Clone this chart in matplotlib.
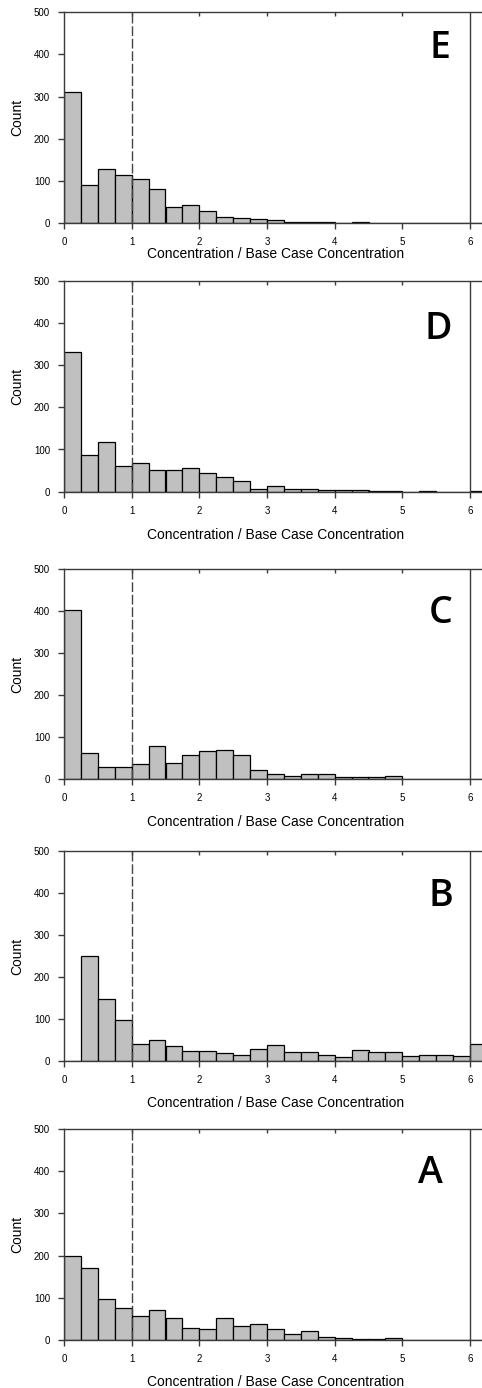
import numpy as np
import matplotlib
matplotlib.use("Agg")
import matplotlib.pyplot as plt

# ---- data (counts per 0.25-wide bin, starting at 0) ----
bin_width = 0.25
counts_E = [310, 90, 127, 115, 104, 80, 39, 42, 28, 15, 12, 9, 7, 2, 2, 2, 0, 2, 0, 0, 0, 0, 0, 0, 0]
counts_D = [330, 87, 117, 61, 69, 52, 52, 55, 45, 36, 26, 7, 14, 6, 6, 4, 4, 4, 2, 2, 0, 2, 0, 0, 2]
counts_C = [403, 61, 29, 29, 35, 78, 37, 56, 67, 70, 56, 21, 11, 8, 11, 11, 5, 5, 5, 8, 0, 0, 0, 0, 0]
counts_B = [0, 250, 147, 97, 40, 50, 36, 24, 24, 18, 15, 29, 37, 21, 21, 15, 10, 26, 21, 21, 13, 15, 15, 13, 40]
counts_A = [198, 171, 96, 77, 58, 72, 53, 29, 26, 53, 34, 39, 26, 15, 21, 7, 5, 2, 2, 4, 0, 0, 0, 0, 0]

panel_names = ["E", "D", "C", "B", "A"]
panel_counts = [counts_E, counts_D, counts_C, counts_B, counts_A]
x_ticks = [0, 1, 2, 3, 4, 5, 6]
y_ticks = [0, 100, 200, 300, 400, 500]
xlabel_text = "Concentration / Base Case Concentration"
ylabel_text = "Count"
reference_ratio = 1.0
upper_line = 6.0

# ---- layout (pixels) ----
W, H = 482, 1388
dpi = 100
panel_top_px = [12.3, 280.7, 569.0, 851.0, 1129.0]
panel_bot_px = [223.0, 491.7, 779.0, 1061.0, 1340.0]
xlabel_y = [-0.115, -0.17, -0.17, -0.165, -0.165]
left_px, right_px = 64, 482
letter_pos = [(5.56, 392), (5.53, 362), (5.56, 372), (5.57, 370), (5.41, 372)]

plt.rcParams['font.family'] = ['Liberation Sans', 'DejaVu Sans']
fig = plt.figure(figsize=(W / dpi, H / dpi), dpi=dpi)

xmax = upper_line * (right_px - left_px) / (470 - left_px)
spine_col = "#3a3a3a"

for name, counts, tp, bp, lp, xly in zip(panel_names, panel_counts, panel_top_px,
                                         panel_bot_px, letter_pos, xlabel_y):
    ax = fig.add_axes([left_px / W, 1 - bp / H, (right_px - left_px) / W, (bp - tp) / H])
    edges = np.arange(len(counts)) * bin_width
    ax.bar(edges, counts, width=bin_width, align='edge', color="#c0c0c0",
           edgecolor="black", linewidth=0.9, zorder=2)
    ax.axvline(reference_ratio, color="#444444", lw=1.0, linestyle=(0, (7, 2)), zorder=3)
    ax.axvline(upper_line, color=spine_col, lw=1.0, zorder=3)
    ax.set_xlim(0, xmax)
    ax.set_ylim(0, 500)
    ax.set_xticks(x_ticks)
    ax.set_yticks(y_ticks)
    for s in ['left', 'top', 'bottom']:
        ax.spines[s].set_color(spine_col)
        ax.spines[s].set_linewidth(1.0)
        ax.spines[s].set_zorder(4)
    ax.spines['right'].set_visible(False)
    ax.tick_params(axis='both', direction='out', length=4, width=1.0, color=spine_col,
                   labelsize=7, pad=6)
    sec = ax.secondary_xaxis('top')
    sec.set_xticks(x_ticks[1:-1])
    sec.tick_params(direction='in', length=3, width=1.0, color=spine_col, labeltop=False)
    sec.spines['top'].set_visible(False)
    ax.set_xlabel(xlabel_text, fontsize=10)
    ax.xaxis.set_label_coords(0.505, xly)
    ax.set_ylabel(ylabel_text, fontsize=10)
    ax.yaxis.set_label_coords(-0.095, 0.5)
    ax.text(lp[0], lp[1], name, fontsize=27, fontweight='semibold', family='Open Sans',
            ha='center', va='baseline', zorder=5)

fig.savefig("out.png", dpi=dpi)
